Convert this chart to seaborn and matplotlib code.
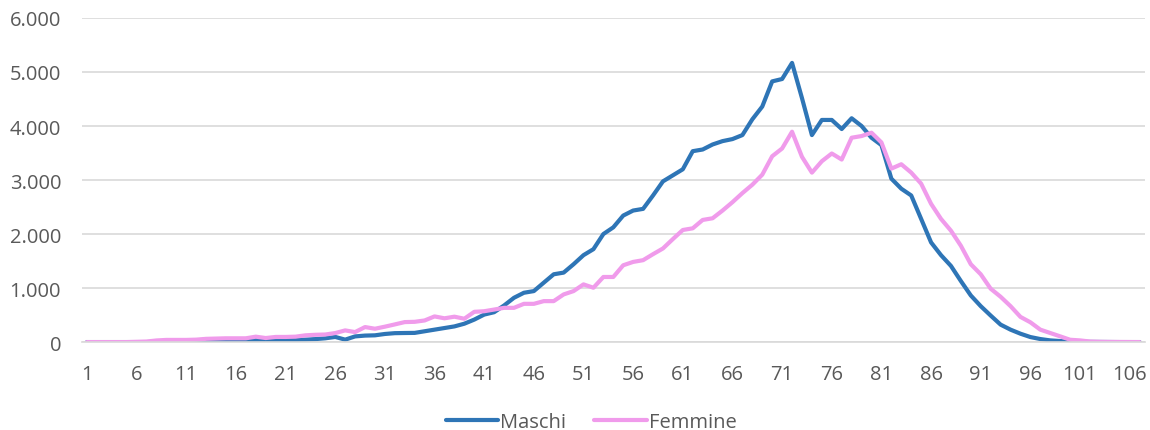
import pandas as pd
import numpy as np
import matplotlib.pyplot as plt
import matplotlib.ticker as mticker
import seaborn as sns

sns.set_style('white')
plt.rcParams['font.family'] = ['Open Sans', 'DejaVu Sans']

# eta (categorie 1..107)
eta = list(range(1, 108))

maschi = [0, 0, 0, 0, 0, 0, 0, 5, 10, 10,
          10, 15, 20, 25, 30, 30, 30, 35, 30, 35,
          40, 40, 45, 55, 70, 95, 45, 105, 120, 125,
          150, 165, 168, 170, 200, 230, 260, 290, 340, 416,
          509, 553, 677, 820, 913, 944, 1100, 1255, 1286, 1441,
          1609, 1720, 2000, 2124, 2342, 2435, 2466, 2714, 2975, 3087,
          3199, 3534, 3565, 3658, 3720, 3758, 3832, 4124, 4360, 4826,
          4870, 5168, 4516, 3832, 4112, 4112, 3944, 4143, 4000, 3783,
          3646, 3025, 2839, 2714, 2280, 1845, 1609, 1410, 1130, 863,
          665, 491, 323, 230, 155, 93, 56, 31, 19, 10,
          5, 3, 2, 1, 0, 0, 0]

femmine = [0, 0, 0, 0, 0, 5, 10, 30, 40, 40,
           40, 45, 60, 65, 70, 70, 70, 100, 75, 95,
           95, 100, 125, 135, 140, 167, 216, 185, 278, 247,
           285, 327, 370, 375, 400, 475, 440, 470, 432, 560,
           571, 602, 634, 634, 708, 708, 758, 758, 882, 944,
           1068, 1006, 1205, 1205, 1422, 1484, 1516, 1627, 1733, 1907,
           2075, 2106, 2261, 2292, 2435, 2590, 2758, 2913, 3099, 3440,
           3584, 3894, 3429, 3137, 3348, 3491, 3379, 3783, 3814, 3876,
           3696, 3211, 3292, 3137, 2932, 2559, 2280, 2062, 1783, 1441,
           1255, 988, 839, 665, 466, 366, 230, 168, 106, 43,
           31, 10, 5, 3, 2, 1, 0]

df = pd.DataFrame({'eta': eta * 2,
                   'valore': maschi + femmine,
                   'sesso': ['Maschi'] * len(eta) + ['Femmine'] * len(eta)})

fig = plt.figure(figsize=(11.5, 4.31), dpi=100)
ax = fig.add_axes([0.0713, 0.204, 0.924, 0.752])

sns.lineplot(data=df, x='eta', y='valore', hue='sesso',
             palette={'Maschi': '#2E75B6', 'Femmine': '#F09BEB'},
             linewidth=3.0, ax=ax, legend=False)

ax.set_xlim(0.5, 107.5)
ax.set_ylim(0, 6000)
ax.set_yticks(range(0, 6001, 1000))
ax.yaxis.set_major_formatter(mticker.FuncFormatter(lambda v, p: f'{int(v):,}'.replace(',', '.')))
ax.set_xticks(range(1, 108, 5))
ax.grid(axis='y', color='#D9D9D9', linewidth=1.2)
ax.set_axisbelow(True)
for s in ['top', 'right', 'left']:
    ax.spines[s].set_visible(False)
ax.spines['bottom'].set_color('#D9D9D9')
ax.spines['bottom'].set_linewidth(1.2)
ax.tick_params(axis='both', length=0, labelsize=14.5, colors='#595959')
ax.tick_params(axis='x', pad=16)
ax.tick_params(axis='y', pad=15)
ax.set_xlabel('')
ax.set_ylabel('')

handles = [plt.Line2D([], [], color='#2E75B6', lw=3.0),
           plt.Line2D([], [], color='#F09BEB', lw=3.0)]
leg = fig.legend(handles, ['Maschi', 'Femmine'], loc='lower center',
                 bbox_to_anchor=(0.514, -0.047), ncol=2, frameon=False,
                 fontsize=14.5, handlelength=2.6, handletextpad=0.1,
                 columnspacing=1.4)
for t in leg.get_texts():
    t.set_color('#595959')

fig.savefig('out.png', dpi=100)
